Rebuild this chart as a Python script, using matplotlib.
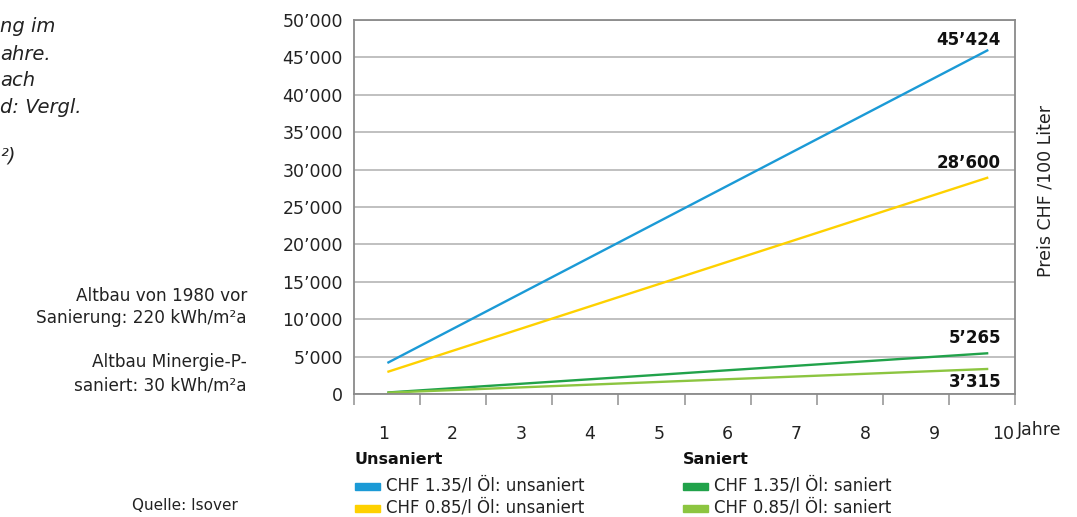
import matplotlib
matplotlib.use("Agg")
import matplotlib.pyplot as plt
from matplotlib.patches import Rectangle
import numpy as np

# heating oil cost (CHF) at year 1 and year 10
years = [1, 10]
unsaniert_135 = [4150, 46000]
unsaniert_085 = [2950, 28950]
saniert_135 = [200, 5450]
saniert_085 = [180, 3350]

year_labels = ["1", "2", "3", "4", "5", "6", "7", "8", "9", "10"]
y_ticks = [0, 5000, 10000, 15000, 20000, 25000, 30000, 35000, 40000, 45000, 50000]
end_labels = ["45’424", "28’600", "5’265", "3’315"]

series = [
    ("CHF 1.35/l Öl: unsaniert", unsaniert_135, "#1b9ad6"),
    ("CHF 0.85/l Öl: unsaniert", unsaniert_085, "#fed100"),
    ("CHF 1.35/l Öl: saniert", saniert_135, "#21a24a"),
    ("CHF 0.85/l Öl: saniert", saniert_085, "#8cc540"),
]

W, H = 1077, 517
FS = 12.5
TXT = "#222222"
plt.rcParams["font.family"] = ["DejaVu Sans"]
fig = plt.figure(figsize=(W / 100, H / 100), dpi=100)


def fx(px):
    return px / W


def fy(py):
    return 1 - py / H


ax = fig.add_axes([fx(354), fy(394), fx(1015) - fx(354), fy(20) - fy(394)])

for name, vals, col in series:
    ax.plot(years, vals, color=col, lw=1.7, solid_capstyle="butt")

ax.set_xlim(0.5, 10.4)
ax.set_ylim(0, 50000)

ax.set_yticks(y_ticks)
ax.set_yticklabels([f"{v:,}".replace(",", "’") for v in y_ticks])
ax.tick_params(axis="y", length=0, pad=8, labelsize=FS, labelcolor=TXT)

# tick marks sit between the year labels
ax.set_xticks(np.linspace(0.94, 10.22, 10))
ax.set_xticklabels(year_labels)
ax.set_xticks(np.linspace(0.5, 10.4, 11), minor=True)
ax.tick_params(axis="x", which="major", length=0, pad=22, labelsize=FS,
               labelcolor=TXT)
ax.tick_params(axis="x", which="minor", length=8, width=1.2, color="#9a9a9a")

ax.grid(axis="y", color="#b5b5b5", lw=1.2)
ax.set_axisbelow(True)
for sp in ax.spines.values():
    sp.set_color("#8a8a8a")
    sp.set_linewidth(1.3)

# end values
for txt, py in zip(end_labels, [40, 163, 338, 382]):
    fig.text(fx(1001), fy(py), txt, ha="right", va="center",
             fontsize=12, fontweight="bold", color="#111111")

fig.text(fx(1017), fy(430), "Jahre", ha="left", va="center", fontsize=FS,
         color=TXT)
fig.text(fx(1046), fy(191), "Preis CHF /100 Liter", rotation=90,
         ha="center", va="center", fontsize=FS, color=TXT)

# legend
legend_cols = [(355, "Unsaniert", series[:2]), (683, "Saniert", series[2:])]
for x0, title, items in legend_cols:
    fig.text(fx(x0), fy(460), title, ha="left", va="center", fontsize=11.5,
             fontweight="bold", color="#111111")
    for i, (name, _, col) in enumerate(items):
        py = 486 + i * 22
        fig.patches.append(Rectangle((fx(x0), fy(py + 3.5)), fx(25), 7 / H,
                                     transform=fig.transFigure, color=col))
        fig.text(fx(x0 + 31), fy(py), name, ha="left", va="center",
                 fontsize=12, color=TXT)

# left side notes
for txt, py in [("Altbau von 1980 vor", 296), ("Sanierung: 220 kWh/m²a", 318),
                ("Altbau Minergie-P-", 362), ("saniert: 30 kWh/m²a", 385)]:
    fig.text(fx(247), fy(py), txt, ha="right", va="center", fontsize=12.2,
             color=TXT)

fig.text(fx(238), fy(506), "Quelle: Isover", ha="right", va="center",
         fontsize=11, color=TXT)

# cut-off italic caption (left part lies outside the picture)
for txt, py in [("ng im", 27), ("ahre.", 54), ("ach", 80),
                ("d: Vergl.", 107), ("²)", 156)]:
    fig.text(0, fy(py), txt, ha="left", va="center", fontsize=14,
             style="italic", color=TXT)

fig.savefig("out.png", dpi=100)
